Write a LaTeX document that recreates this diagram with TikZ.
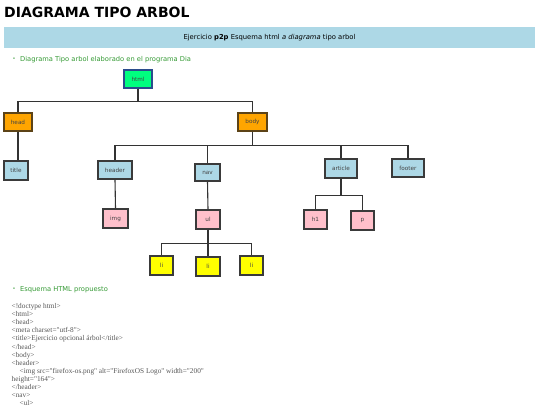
\documentclass[tikz,border=0pt]{standalone}
\usepackage{fontspec}
\setmainfont{DejaVu Sans}
\newfontfamily\codefont{Liberation Serif}
\usepackage{tikz}
\usetikzlibrary{positioning,calc}
\usepackage{xcolor}
\definecolor{barblue}{HTML}{ADD8E6}
\definecolor{rootgreen}{HTML}{00FF7F}
\definecolor{rootline}{HTML}{2B4C8C}
\definecolor{midorange}{HTML}{FFA500}
\definecolor{midline}{HTML}{5C4317}
\definecolor{leafblue}{HTML}{ADD8E6}
\definecolor{leafpink}{HTML}{FFC0CB}
\definecolor{leafyellow}{HTML}{FFFF00}
\definecolor{boxline}{HTML}{3A3A3A}
\definecolor{linkgray}{HTML}{333333}
\definecolor{labelgray}{HTML}{444444}
\definecolor{notegreen}{HTML}{339933}
\definecolor{codegray}{HTML}{555555}

\begin{document}
\begin{tikzpicture}[
  x=1pt, y=-1pt,
  tag/.style={draw=boxline, line width=1.15pt, inner sep=0pt, minimum width=#1, minimum height=18pt, font=\fontsize{5.7}{6}\selectfont, text=labelgray},
  tag/.default=25pt,
  root/.style={tag=28pt, fill=rootgreen, draw=rootline},
  mid/.style={tag=28pt, fill=midorange, draw=midline},
  block/.style={tag=#1, fill=leafblue},
  block/.default=25pt,
  inner/.style={tag=24pt, minimum height=19pt, fill=leafpink},
  item/.style={tag=23pt, minimum height=19pt, fill=leafyellow},
  link/.style={draw=linkgray, line width=1.1pt},
  note/.style={anchor=base west, inner sep=0pt, font=\fontsize{6.7}{8}\selectfont, text=notegreen},
  dot/.style={inner sep=0pt, font=\fontsize{5}{6}\selectfont, text=notegreen},
]
\useasboundingbox (0,0) rectangle (540,405);
\clip (0,0) rectangle (540,405);

% Heading and banner
\node[anchor=base west, inner sep=0pt, font=\fontsize{14}{16}\selectfont\bfseries] (titulo) at (4,17.5) {DIAGRAMA TIPO ARBOL};
\node[fill=barblue, minimum width=531pt, minimum height=21pt, inner sep=0pt, font=\fontsize{6.8}{8}\selectfont] (banner) at (269.5,37.5)
  {Ejercicio \textbf{p2p} Esquema html \textit{a diagrama} tipo arbol};

% First bullet
\node[dot] (b1) at (14,59) {\textbullet};
\node[note] (nota1) at (20,61.5) {Diagrama Tipo arbol elaborado en el programa Dia};

% Tree nodes
\node[root] (html) at (138,79) {html};
\node[mid] (head) at (18,122) {head};
\node[mid, minimum width=29pt] (body) at (252.5,122) {body};

\node[block=24pt, minimum height=19pt] (title) at (16,170.5) {title};
\node[block=34pt] (header) at (115,170) {header};
\node[block=25pt, minimum height=17pt] (nav) at (207.5,172.5) {nav};
\node[block=32pt, minimum height=19pt] (article) at (341,168.5) {article};
\node[block=32pt] (footer) at (408,168) {footer};

\node[inner, minimum width=25pt] (img) at (115.5,218.5) {img};
\node[inner] (ul) at (208,219.5) {ul};
\node[inner, minimum width=23pt] (h1) at (315.5,219.5) {h1};
\node[inner, minimum width=23pt] (p) at (362.5,220.5) {p};

\node[item] (li1) at (161.5,265.5) {li};
\node[item, minimum width=24pt] (li2) at (208,266.5) {li};
\node[item] (li3) at (251.5,265.5) {li};

% Connectors
\draw[link] (html.south) -- ++(0,13) -| (head.north);
\draw[link] (html.south) -- ++(0,13) -| (body.north);
\draw[link] (head.south) -- (head.south |- title.north);
\foreach \hijo in {header,nav,article,footer}
  \draw[link] (body.south) -- ++(0,14) -| (\hijo.north);
\draw[link] (header.south) -- (img.north);
\draw[link] (nav.south) -- (ul.north);
\draw[link] (article.south) -- ++(0,17) -| (h1.north);
\draw[link] (article.south) -- ++(0,17) -| (p.north);
\foreach \hijo in {li1,li2,li3}
  \draw[link] (ul.south) -- ++(0,14) -| (\hijo.north);

% Second bullet and code
\node[dot] (b2) at (14,289) {\textbullet};
\node[note] (nota2) at (20,291.5) {Esquema HTML propuesto};
\node[anchor=north west, inner sep=0pt, align=left, text=codegray, font=\codefont\fontsize{7.3}{8.05}\selectfont] (codigo) at (11.5,303.5)
  {<!doctype html>\\
   <html>\\
   <head>\\
   <meta charset="utf-8">\\
   <title>Ejercicio opcional árbol</title>\\
   </head>\\
   <body>\\
   <header>\\
   \hspace*{8pt}<img src="firefox-os.png" alt="FirefoxOS Logo" width="200"\\
   height="164">\\
   </header>\\
   <nav>\\
   \hspace*{8pt}<ul>};
\end{tikzpicture}
\end{document}
